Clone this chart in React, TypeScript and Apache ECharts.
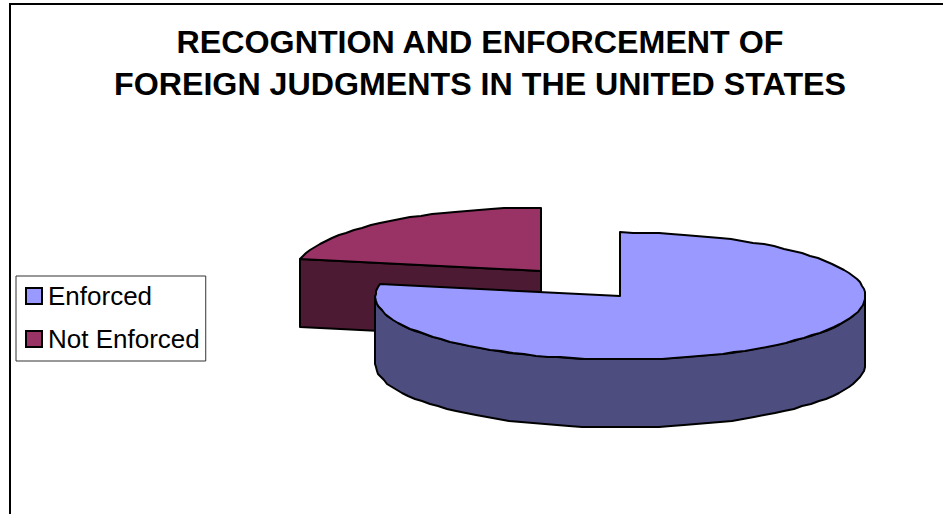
import React, { useEffect, useRef } from "react";
import * as echarts from "echarts";

const titleLines = ["RECOGNTION AND ENFORCEMENT OF", "FOREIGN JUDGMENTS IN THE UNITED STATES"];
const categories = ["Enforced", "Not Enforced"];
const values = [78, 22];
const topColors = ["#9999FF", "#993366"];
const wallColors = ["#4D4D80", "#4D1A33"];

// Shape of the tilted pie, in pixels
const CX = 580.75;
const CY = 283.5;
const RX = 245;
const RY = 63.5;
const DEPTH = 68;
const EXPLODE = 0.254;
const STEP = 3;

const total = values.reduce((a, b) => a + b, 0);

function arcPoints(cx: number, cy: number, from: number, to: number) {
  const pts: number[][] = [];
  const n = Math.max(1, Math.ceil((to - from) / STEP));
  for (let i = 0; i <= n; i++) {
    const t = ((from + ((to - from) * i) / n) * Math.PI) / 180;
    pts.push([Math.round(cx + RX * Math.sin(t)), Math.round(cy - RY * Math.cos(t))]);
  }
  return pts;
}

const edge = (fill: string) => ({
  fill,
  stroke: "#000",
  lineWidth: 2,
  lineJoin: "round",
});

function sliceItem(index: number) {
  const start = (values.slice(0, index).reduce((a, b) => a + b, 0) / total) * 360;
  const end = start + (values[index] / total) * 360;
  const mid = (((start + end) / 2) * Math.PI) / 180;
  const cx = CX + EXPLODE * RX * Math.sin(mid);
  const cy = CY - EXPLODE * RY * Math.cos(mid);
  const children: any[] = [];
  const poly = (points: number[][], fill: string) =>
    children.push({ type: "polygon", shape: { points }, style: edge(fill) });
  const down = (pts: number[][]) => pts.map(([x, y]) => [x, y + DEPTH]);

  // Cut faces that turn towards the viewer
  for (const [angle, normal] of [
    [start, start - 90],
    [end, end + 90],
  ]) {
    if (Math.cos((normal * Math.PI) / 180) < -0.01) {
      const rim = arcPoints(cx, cy, angle, angle)[0];
      const apex = [Math.round(cx), Math.round(cy)];
      poly([apex, rim, [rim[0], rim[1] + DEPTH], [apex[0], apex[1] + DEPTH]], wallColors[index]);
    }
  }

  // Outer wall: only the front half of the rim is seen
  const a = Math.max(start, 90);
  const b = Math.min(end, 270);
  if (b > a) {
    const rim = arcPoints(cx, cy, a, b);
    poly([...rim, ...down(rim).reverse()], wallColors[index]);
  }

  // Top face
  poly([[Math.round(cx), Math.round(cy)], ...arcPoints(cx, cy, start, end)], topColors[index]);
  return { type: "group", children };
}

export default function App() {
  const ref = useRef<HTMLDivElement>(null);
  useEffect(() => {
    document.body.style.margin = "0";
    const chart = echarts.init(ref.current!, undefined, { renderer: "svg" });
    chart.setOption({
      animation: false,
      backgroundColor: "#fff",
      title: {
        text: titleLines.join("\n"),
        left: 475,
        top: 16,
        textAlign: "center",
        textStyle: {
          fontFamily: "Liberation Sans",
          fontWeight: "bold",
          fontSize: 32.2,
          lineHeight: 42,
          color: "#000",
        },
      },
      legend: {
        data: categories,
        orient: "vertical",
        left: 16,
        top: 276,
        padding: [7, 6, 9, 9],
        itemWidth: 16,
        itemHeight: 16,
        itemGap: 17,
        icon: "rect",
        borderColor: "#333",
        borderWidth: 1,
        selectedMode: false,
        itemStyle: { borderColor: "#000", borderWidth: 2 },
        textStyle: {
          fontFamily: "Liberation Sans",
          fontSize: 26,
          color: "#000",
          padding: [0, 0, 8, 1],
        },
      },
      graphic: [
        {
          type: "rect",
          shape: { x: 10, y: 4, width: 1100, height: 800 },
          style: { fill: "none", stroke: "#000", lineWidth: 2 },
          silent: true,
        },
      ],
      series: categories.map((name, i) => ({
        type: "custom",
        name,
        coordinateSystem: "none",
        z: 3 - i,
        itemStyle: { color: topColors[i] },
        data: [[values[i]]],
        renderItem: () => sliceItem(i),
      })),
    });
    return () => chart.dispose();
  }, []);
  return <div ref={ref} style={{ width: 943, height: 514 }} />;
}
